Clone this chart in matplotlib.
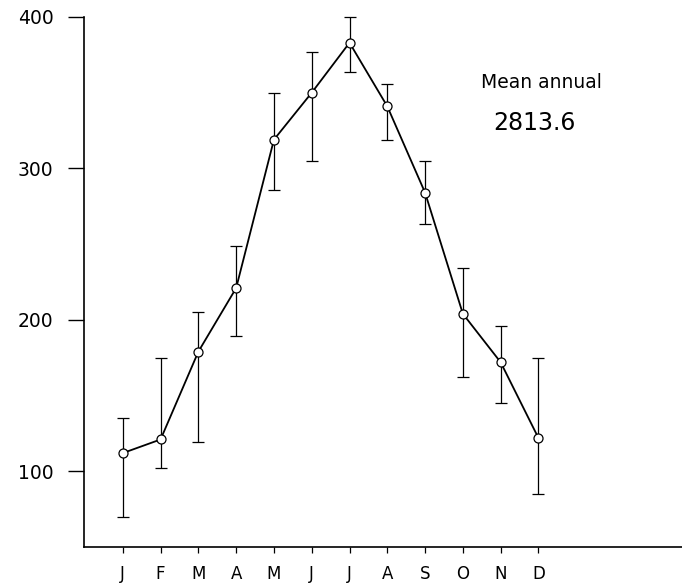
import numpy as np
import matplotlib
matplotlib.use("Agg")
import matplotlib.pyplot as plt

# 月份与数值
months = ['J', 'F', 'M', 'A', 'M', 'J', 'J', 'A', 'S', 'O', 'N', 'D']
mean_vals = [112, 121, 179, 221, 319, 350, 383, 341, 284, 204, 172, 122]
upper_vals = [135, 175, 205, 249, 350, 377, 400, 356, 305, 234, 196, 175]
lower_vals = [70, 102, 119, 189, 286, 305, 364, 319, 263, 162, 145, 85]
y_ticks = [100, 200, 300, 400]
annotation_title = 'Mean annual'
annotation_value = '2813.6'

x = np.arange(1, len(months) + 1)
mean_arr = np.array(mean_vals)
yerr = [mean_arr - np.array(lower_vals), np.array(upper_vals) - mean_arr]

fig = plt.figure(figsize=(6.82, 5.86), dpi=100)
ax = fig.add_axes([0.123, 0.0666, 0.877, 0.9044])

ax.errorbar(x, mean_vals, yerr=yerr, fmt='none', ecolor='black',
            elinewidth=0.9, capsize=4.3, capthick=0.9, clip_on=False)
ax.plot(x, mean_vals, color='black', linewidth=1.3, marker='o',
        markersize=6.5, markerfacecolor='white', markeredgecolor='black',
        markeredgewidth=0.9, clip_on=False, zorder=3)

ax.set_xlim(-0.03, 15.8)
ax.set_ylim(50, 400)
ax.set_xticks(x)
ax.set_xticklabels(months)
ax.set_yticks(y_ticks)

for s in ['top', 'right']:
    ax.spines[s].set_visible(False)
ax.spines['left'].set_linewidth(1.2)
ax.spines['bottom'].set_linewidth(1.2)

ax.tick_params(axis='y', direction='out', length=11.5, width=1.0,
               labelsize=13.5, pad=10.5)
ax.tick_params(axis='x', direction='out', length=4, width=0.9,
               labelsize=12, pad=9)

ax.text(12.09, 356.5, annotation_title, fontsize=13.5, ha='center', va='center')
ax.text(11.9, 330, annotation_value, fontsize=17, ha='center', va='center')

fig.savefig('out.png', dpi=100)
